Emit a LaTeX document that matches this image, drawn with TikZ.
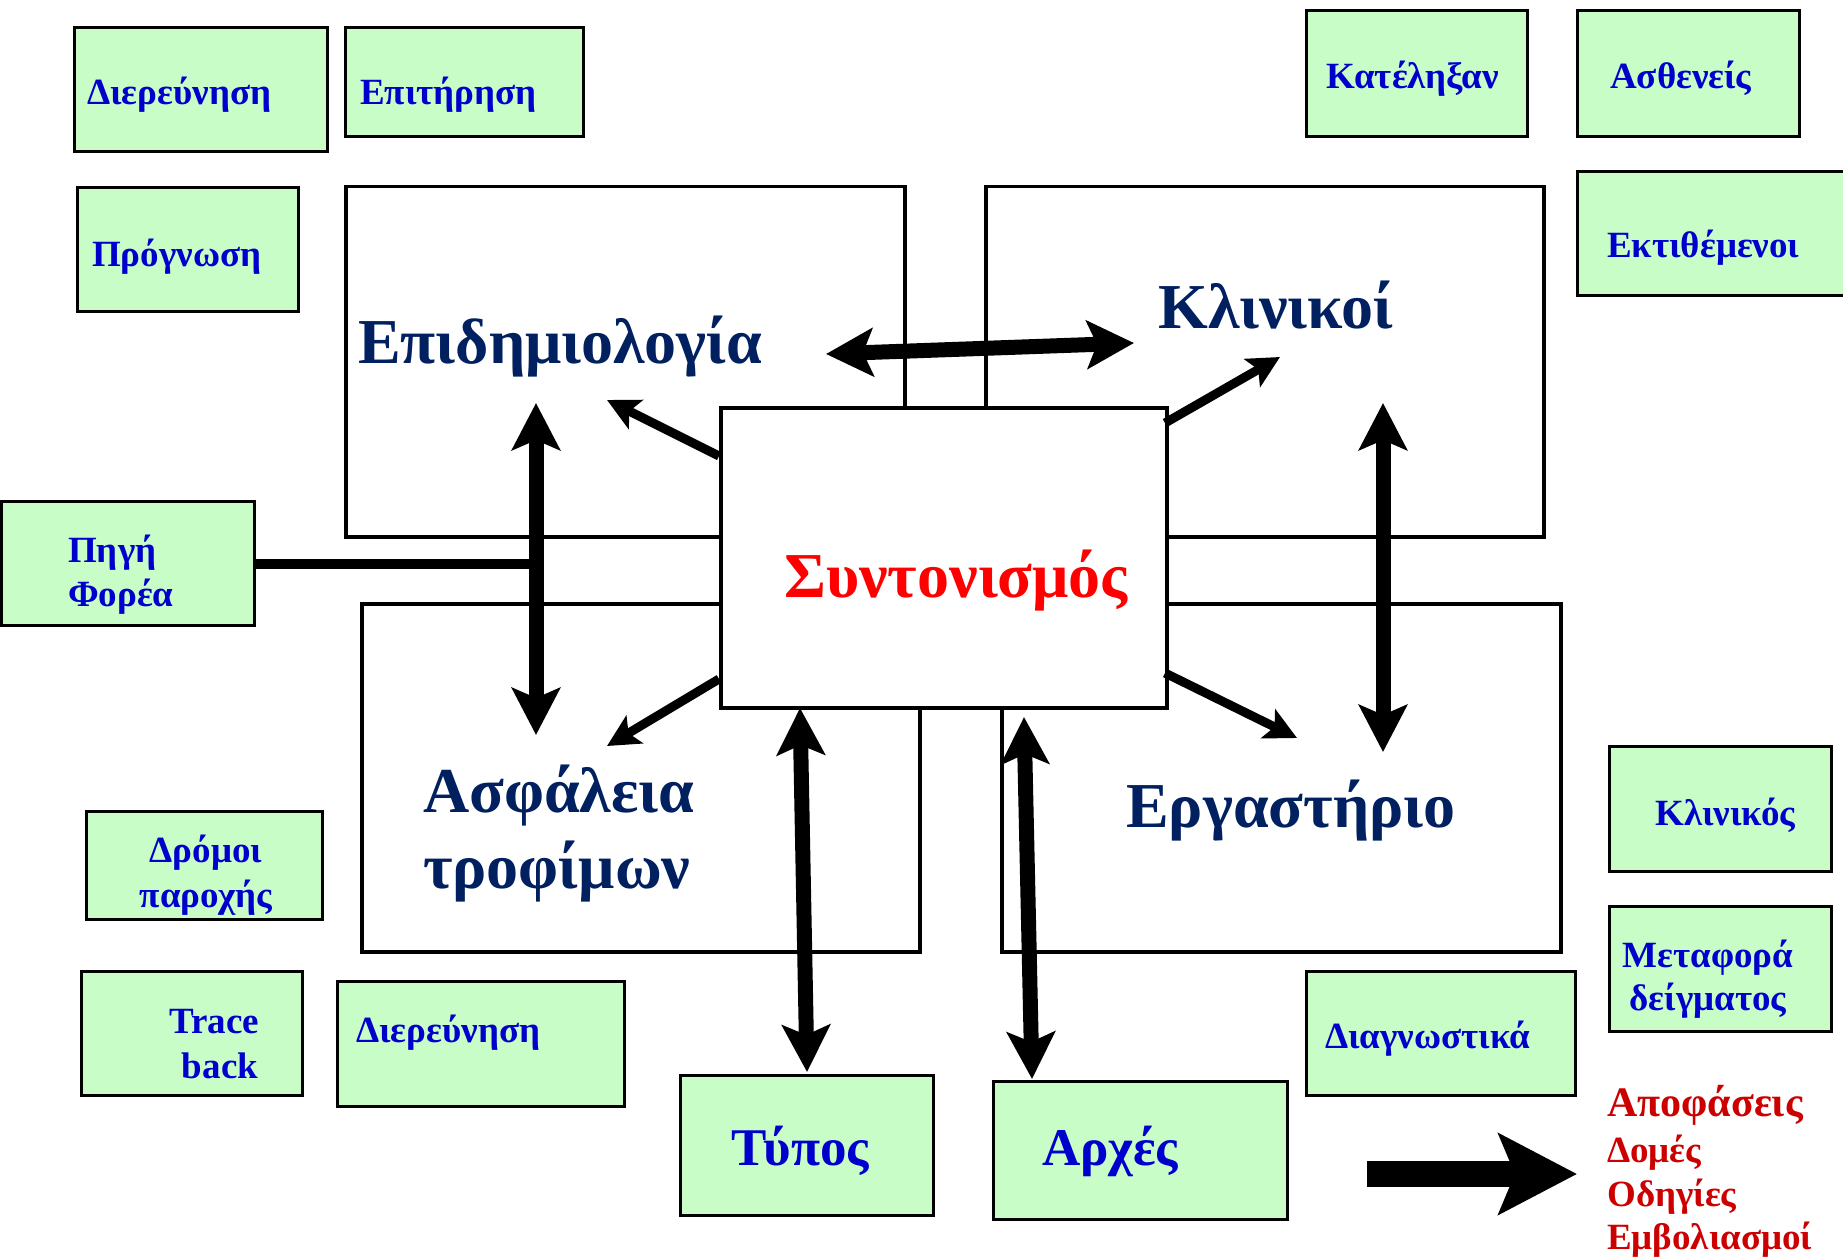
\documentclass[tikz,border=0pt]{standalone}
\usepackage{fontspec}
\setmainfont{Liberation Serif}
\usetikzlibrary{arrows.meta}
\definecolor{gfill}{HTML}{C8FDC8}
\definecolor{gblue}{HTML}{0000CC}
\definecolor{navy}{HTML}{002060}
\definecolor{dred}{HTML}{CC0000}
\tikzset{
  gbox/.style={draw=black, line width=3pt, fill=gfill, inner sep=0pt, anchor=north west},
  wbox/.style={draw=black, line width=3.5pt, fill=white, inner sep=0pt, anchor=north west},
  gtext/.style={font=\fontsize{37}{40}\selectfont\bfseries, text=gblue, inner sep=0pt, anchor=base west},
  gtextc/.style={gtext, anchor=base},
  gbig/.style={font=\fontsize{53}{56}\selectfont\bfseries, text=gblue, inner sep=0pt, anchor=base west},
  btext/.style={font=\fontsize{64}{68}\selectfont\bfseries, text=navy, inner sep=0pt, anchor=base west},
  rtext/.style={font=\fontsize{64}{68}\selectfont\bfseries, text=red, inner sep=0pt, anchor=base west},
  dtext/.style={font=\fontsize{37}{40}\selectfont\bfseries, text=dred, inner sep=0pt, anchor=base west},
  dtextbig/.style={dtext, font=\fontsize{42}{45}\selectfont\bfseries},
  thick arrow/.style={line width=15pt, {Stealth[length=47pt,width=48pt,inset=10pt]}-{Stealth[length=47pt,width=48pt,inset=10pt]}},
  diag arrow/.style={line width=9pt, -{Stealth[length=32pt,width=32pt,inset=7pt]}},
}
\begin{document}
\begin{tikzpicture}[x=1pt,y=-1pt]
\useasboundingbox (0,0) rectangle (1843,1257);
\clip (0,0) rectangle (1843,1257);

% big white boxes
\node[wbox, minimum width=559pt, minimum height=350pt] (epid) at (344,185) {};
\node[wbox, minimum width=558pt, minimum height=350pt] (klin) at (984,185) {};
\node[wbox, minimum width=558pt, minimum height=348pt] (asfal) at (360,602) {};
\node[wbox, minimum width=559pt, minimum height=348pt] (ergast) at (1000,602) {};
\node[wbox, minimum width=446pt, minimum height=300pt] (synt) at (719,406) {};

\node[btext] (tepid) at (358,363) {Επιδημιολογία};
\node[btext] (tklin) at (1158,328) {Κλινικοί};
\node[btext] (tasf1) at (423,812) {Ασφάλεια};
\node[btext] (tasf2) at (423,888) {τροφίμων};
\node[btext] (terg) at (1126,827) {Εργαστήριο};
\node[rtext] (tsynt) at (784,597) {Συντονισμός};

% green boxes
\node[gbox, minimum width=253pt, minimum height=124pt] (dier1) at (73,26) {};
\node[gtext] at (87,105) {Διερεύνηση};
\node[gbox, minimum width=238pt, minimum height=109pt] (epit) at (344,26) {};
\node[gtext] at (360,105) {Επιτήρηση};
\node[gbox, minimum width=221pt, minimum height=124pt] (progn) at (76,186) {};
\node[gtext] at (92,266) {Πρόγνωση};
\node[gbox, minimum width=221pt, minimum height=126pt] (katel) at (1305,9) {};
\node[gtext] at (1326,89) {Κατέληξαν};
\node[gbox, minimum width=222pt, minimum height=126pt] (asth) at (1576,9) {};
\node[gtext] at (1610,89) {Ασθενείς};
\node[gbox, minimum width=274pt, minimum height=124pt] (ektith) at (1576,170) {};
\node[gtext] at (1607,258) {Εκτιθέμενοι};
\node[gbox, minimum width=253pt, minimum height=124pt] (pigi) at (0,500) {};
\node[gtext] at (68,562) {Πηγή};
\node[gtext] at (68,606) {Φορέα};
\node[gbox, minimum width=236pt, minimum height=108pt] (dromoi) at (85,810) {};
\node[gtextc] at (206,862) {Δρόμοι};
\node[gtextc] at (206,907) {παροχής};
\node[gbox, minimum width=221pt, minimum height=124pt] (trace) at (80,970) {};
\node[gtextc] at (214,1033) {Trace};
\node[gtextc] at (220,1078) {back};
\node[gbox, minimum width=287pt, minimum height=125pt] (dier2) at (336,980) {};
\node[gtext] at (356,1042) {Διερεύνηση};
\node[gbox, minimum width=253pt, minimum height=140pt] (typos) at (679,1074) {};
\node[gbig, anchor=base] at (800,1165) {Τύπος};
\node[gbox, minimum width=294pt, minimum height=138pt] (arxes) at (992,1080) {};
\node[gbig] at (1042,1165) {Αρχές};
\node[gbox, minimum width=269pt, minimum height=124pt] (diagn) at (1305,970) {};
\node[gtext] at (1325,1048) {Διαγνωστικά};
\node[gbox, minimum width=222pt, minimum height=125pt] (klinikos) at (1608,745) {};
\node[gtext] at (1655,825) {Κλινικός};
\node[gbox, minimum width=222pt, minimum height=125pt] (metaf) at (1608,905) {};
\node[gtextc] at (1708,967) {Μεταφορά};
\node[gtextc] at (1708,1010) {δείγματος};

% red list
\node[dtextbig] (apof) at (1607,1116) {Αποφάσεις};
\node[dtext] (domes) at (1607,1162) {Δομές};
\node[dtext] (odig) at (1607,1206) {Οδηγίες};
\node[dtext] (embol) at (1607,1249) {Εμβολιασμοί};

% coordinates for connectors
\coordinate (hL) at (826,354);
\coordinate (hR) at (1134,343);
\coordinate (d1s) at (719,456);
\coordinate (d1e) at (607,400);
\coordinate (d2s) at (1165,423);
\coordinate (d2e) at (1280,357);
\coordinate (d3s) at (719,679);
\coordinate (d3e) at (607,746);
\coordinate (d4s) at (1165,673);
\coordinate (d4e) at (1297,738);
\coordinate (lvT) at (536,403);
\coordinate (lvB) at (536,735);
\coordinate (rvT) at (1383,403);
\coordinate (rvB) at (1383,752);
\coordinate (tyT) at (800,708);
\coordinate (tyB) at (807,1072);
\coordinate (axT) at (1024,717);
\coordinate (axB) at (1032,1079);
\coordinate (pigiJ) at (536,564);
\coordinate (bgS) at (1367,1174);
\coordinate (bgE) at (1577,1174);

% connectors
\draw[thick arrow] (hL) -- (hR);
\draw[diag arrow] (d1s) -- (d1e);
\draw[diag arrow] (d2s) -- (d2e);
\draw[diag arrow] (d3s) -- (d3e);
\draw[diag arrow] (d4s) -- (d4e);
\draw[line width=10pt] (pigi.east |- pigiJ) -- (pigiJ);
\draw[thick arrow] (lvT) -- (lvB);
\draw[thick arrow] (rvT) -- (rvB);
\draw[thick arrow] (tyT) -- (tyB);
\draw[thick arrow] (axT) -- (axB);
\draw[line width=26pt, -{Stealth[length=78pt,width=80pt,inset=16pt]}] (bgS) -- (bgE);
\end{tikzpicture}
\end{document}
